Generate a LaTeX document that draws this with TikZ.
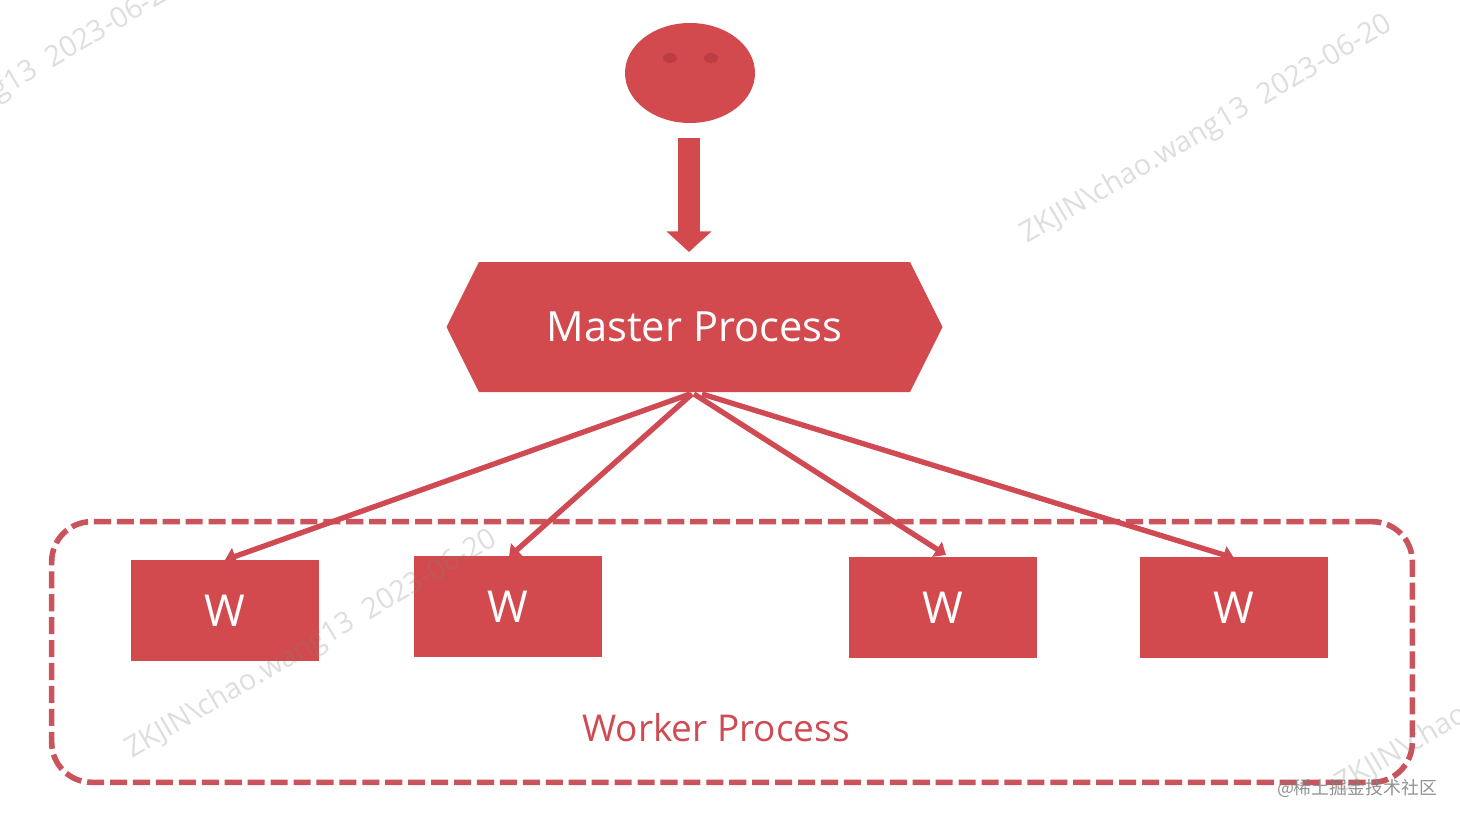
\documentclass[tikz,border=0pt]{standalone}
\usepackage{fontspec}
\setmainfont{Open Sans}
\newfontfamily\cjkfont{Noto Sans CJK SC}
\usetikzlibrary{shapes.geometric,shapes.symbols,arrows.meta}
\definecolor{brick}{HTML}{D34A4E}
\definecolor{linered}{HTML}{CF4A52}
\definecolor{dashred}{HTML}{C9545B}
\definecolor{eyered}{HTML}{BC3E44}
\tikzset{
  workerbox/.style={rectangle,fill=brick,text=white,font=\fontsize{33}{36}\selectfont,minimum width=141pt,minimum height=75.5pt,inner sep=0pt},
  eyeshape/.style={ellipse,fill=eyered,minimum width=10.5pt,minimum height=7.5pt,inner sep=0pt},
  spoke/.style={draw=linered,line width=4pt,-{Triangle[width=13pt,length=8pt]}},
  mark text/.style={rotate=30.4,text=gray,opacity=.26,font=\fontsize{21.6}{25}\selectfont},
}
\begin{document}
\begin{tikzpicture}[x=.75pt,y=-.75pt]
\useasboundingbox (0,0) rectangle (1460,820);
\clip (0,0) rectangle (1460,820);
\fill[white] (0,0) rectangle (1460,820);
% container
\node[draw=dashred,line width=4.2pt,rounded corners=30pt,dash pattern=on 12.8pt off 4.4pt,minimum width=1020.5pt,minimum height=195.5pt,inner sep=0pt] (group) at (732,652) {};
\node[text=linered,font=\fontsize{27.7}{32}\selectfont] (grouplabel) at (716,727.5) {Worker Process};
% person
\node[ellipse,fill=brick,minimum width=97.5pt,minimum height=75pt,inner sep=0pt] (face) at (690,73) {};
\node[eyeshape] (eyeL) at (670,58) {};
\node[eyeshape] (eyeR) at (711,58) {};
% master
\node[signal,signal to=east and west,signal pointer angle=127,fill=brick,text=white,minimum width=372pt,minimum height=97.5pt,inner sep=0pt,font=\fontsize{31.2}{36}\selectfont] (master) at (694.5,327) {Master Process};
% big arrow
\coordinate (bigstart) at (689,138);
\coordinate (bigend) at (689,252);
\draw[line width=16.5pt,brick,-{Triangle[width=33pt,length=15.5pt]}] (bigstart) -- (bigend);
% workers
\node[workerbox] (w1) at (224.5,610.5) {W};
\node[workerbox] (w2) at (507.5,606.5) {W};
\node[workerbox] (w3) at (942.5,607.5) {W};
\node[workerbox] (w4) at (1233.5,607.5) {W};
% spokes
\coordinate (s1) at (690,394);
\coordinate (s2) at (692,394);
\coordinate (s3) at (694,394);
\coordinate (s4) at (702,394);
\coordinate (t1) at (225,560);
\coordinate (t2) at (509,557);
\coordinate (t3) at (946,555);
\coordinate (t4) at (1234,558);
\draw[spoke] (s1) -- (t1);
\draw[spoke] (s2) -- (t2);
\draw[spoke] (s3) -- (t3);
\draw[spoke] (s4) -- (t4);
% watermarks
\node[mark text] (m1) at (1207,130) {ZKJIN\textbackslash chao.wang13\ \ 2023-06-20};
\node[mark text] (m2) at (312,645) {ZKJIN\textbackslash chao.wang13\ \ 2023-06-20};
\node[mark text] (m3) at (-5,93) {ZKJIN\textbackslash chao.wang13\ \ 2023-06-20};
\node[mark text] (m4) at (1522,680) {ZKJIN\textbackslash chao.wang13\ \ 2023-06-20};
\node[text=gray,opacity=.85,font=\cjkfont\fontsize{13.4}{17}\selectfont] (credit) at (1357,788) {@稀土掘金技术社区};
\end{tikzpicture}
\end{document}
